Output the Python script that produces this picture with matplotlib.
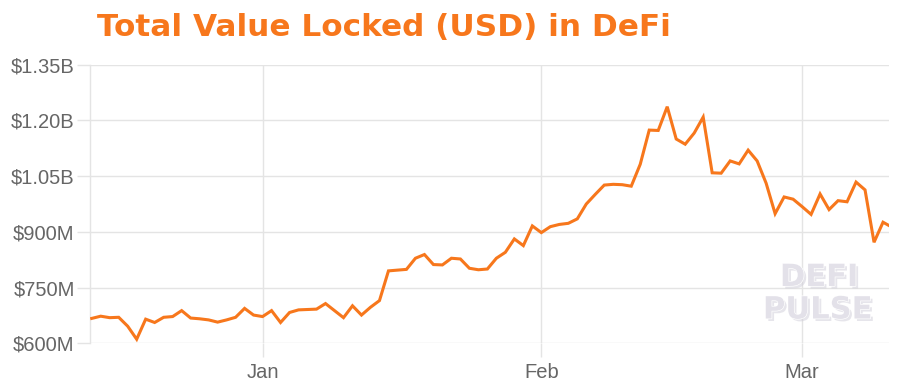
import matplotlib
matplotlib.use("Agg")
import matplotlib.pyplot as plt
import matplotlib.patheffects as pe
from matplotlib.ticker import FuncFormatter, FixedLocator
import pandas as pd

# ---- data ----
daily_dates = pd.date_range("2019-12-13", "2020-03-10", freq="D")
last_date = pd.Timestamp("2020-03-10 16:00")
tvl_musd = [
    667, 673, 669, 670, 646, 611, 665, 656, 670, 672, 688, 668, 666, 663, 657, 663, 670, 694, 676,  # Dec 13-31
    672, 688, 656, 683, 690, 691, 692, 707, 688, 669, 701, 676, 697, 715, 795, 797, 799, 829, 839,
    812, 811, 829, 827, 802, 798, 800, 829, 845, 881, 863, 916,  # Jan
    898, 914, 920, 923, 935, 975, 1001, 1026, 1028, 1027, 1023, 1082, 1174, 1173, 1237, 1150,
    1136, 1166, 1209, 1059, 1058, 1091, 1083, 1120, 1091, 1031, 949, 994, 988,  # Feb
    968, 947, 1002, 960, 984, 981, 1034, 1013, 872, 926,  # Mar 1-10
    917,  # latest
]
dates = list(daily_dates) + [last_date]
y_ticks = [600, 750, 900, 1050, 1200, 1350]
month_ticks = [pd.Timestamp("2020-01-01"), pd.Timestamp("2020-02-01"), pd.Timestamp("2020-03-01")]
month_labels = ["Jan", "Feb", "Mar"]
title = "Total Value Locked (USD) in DeFi"

# ---- style ----
ORANGE = "#F7771C"
GRID = "#e4e4e4"
TICK_TXT = "#666666"

fig = plt.figure(figsize=(9, 3.88), dpi=100)
ax = fig.add_axes([0.1, 0.1152, 0.8878, 0.718])

ax.plot(dates, tvl_musd, color=ORANGE, lw=2.2, solid_joinstyle="miter", zorder=3)

ax.set_ylim(600, 1350)
ax.set_xlim(dates[0] - pd.Timedelta(hours=4.6), dates[-1])

ax.yaxis.set_major_locator(FixedLocator(y_ticks))
def fmt(v, pos):
    if v >= 1000:
        return "$%.2fB" % (v / 1000.0)
    return "$%dM" % v
ax.yaxis.set_major_formatter(FuncFormatter(fmt))
ax.set_xticks(month_ticks)
ax.set_xticklabels(month_labels)

ax.grid(True, color=GRID, lw=1.0)
for s in ["top", "right", "bottom"]:
    ax.spines[s].set_visible(False)
ax.spines["left"].set_color(GRID)
ax.spines["left"].set_linewidth(1.0)

ax.tick_params(axis="y", length=9.5, width=1.0, color=GRID, pad=1.5,
               labelsize=14.5, labelcolor=TICK_TXT)
ax.tick_params(axis="x", length=10, width=1.0, color=GRID, pad=4,
               labelsize=14.5, labelcolor=TICK_TXT)
for lab in ax.get_xticklabels() + ax.get_yticklabels():
    lab.set_family("Liberation Sans")

fig.text(0.1075, 0.907, title, color=ORANGE, fontsize=22.4, fontweight="bold",
         family="DejaVu Sans", ha="left", va="baseline")

# watermark
wm_kw = dict(fontsize=22, fontweight="bold", family="DejaVu Sans", ha="center",
             va="center", color="#e3e1e9", zorder=1,
             path_effects=[pe.withSimplePatchShadow(offset=(1.8, -1.8), shadow_rgbFace="#cfcdd8", alpha=0.5),
                           pe.Stroke(linewidth=1.0, foreground="white"), pe.Normal()])
fig.text(819 / 900, 1 - 277.5 / 388, "DEFI", **wm_kw)
fig.text(817.5 / 900, 1 - 310 / 388, "PULSE", **wm_kw)

fig.savefig("out.png", dpi=100, facecolor="white")
